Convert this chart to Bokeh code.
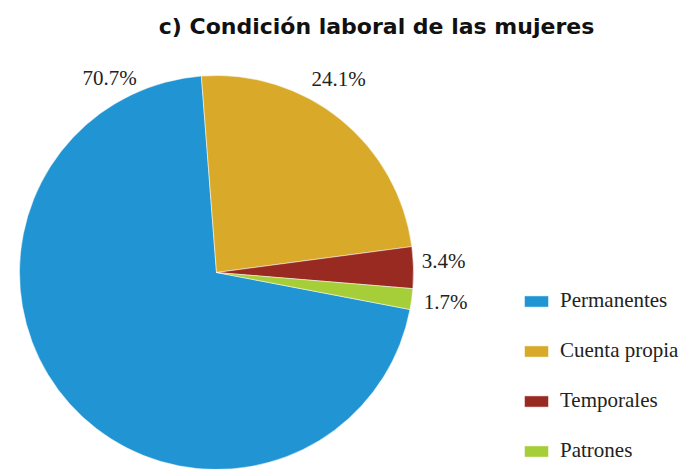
import numpy as np
from bokeh.plotting import figure
from bokeh.models import ColumnDataSource, Range1d, Legend, LegendItem, Label
from bokeh.embed import file_html
from bokeh.resources import INLINE

# ---- data ----
categories = ["Permanentes", "Cuenta propia", "Temporales", "Patrones"]
values = [70.7, 24.1, 3.4, 1.7]
colors = ["#2195D3", "#D9AA2A", "#992A22", "#A6CE39"]
title_text = "c) Condición laboral de las mujeres"

# ---- layout ----
W, H = 684, 469
CX, CY, R = 216, 197, 197          # pie centre / radius (plot px, y up)
SECOND_START_DEG = 94.4             # where the 2nd slice starts (deg, ccw from +x)
# label centre positions (plot px, y up), one per slice
label_pos = [(109, 392), (338, 391), (443, 209), (445, 168)]

vals = np.array(values, dtype=float)
frac = vals / vals.sum()
sweep = frac * 2 * np.pi
start0 = np.deg2rad(SECOND_START_DEG) + sweep[0]
starts = start0 - np.concatenate([[0], np.cumsum(sweep)[:-1]])
ends = starts - sweep

src = ColumnDataSource(dict(cat=categories, start=starts, end=ends, color=colors,
                            lab=[f"{v:.1f}%" for v in values]))

p = figure(width=W, height=H, output_backend="svg", toolbar_location=None,
           x_range=Range1d(0, W), y_range=Range1d(0, H), min_border=0)
p.axis.visible = False
p.grid.visible = False
p.outline_line_color = None

r = p.wedge(x=CX, y=CY, radius=R, start_angle="start", end_angle="end",
            direction="clock", fill_color="color", line_color="white",
            line_width=0.5, source=src)

for (lx, ly), txt in zip(label_pos, src.data["lab"]):
    p.add_layout(Label(x=lx, y=ly, text=txt, text_align="center",
                       text_baseline="middle", text_font="Liberation Serif",
                       text_font_size="21px", text_color="#222222"))

p.add_layout(Label(x=376, y=H - 26, text=title_text, text_align="center",
                   text_baseline="middle", text_font="DejaVu Sans",
                   text_font_style="bold", text_font_size="22px",
                   text_color="#111111"))

items = [LegendItem(label=c, renderers=[r], index=i) for i, c in enumerate(categories)]
legend = Legend(items=items, location=(521, 6), orientation="vertical",
                glyph_width=30, glyph_height=14, label_standoff=9, spacing=25,
                padding=0, margin=0, border_line_color=None,
                background_fill_alpha=0, label_text_font="Liberation Serif",
                label_text_font_size="21px", label_text_color="#222222")
p.add_layout(legend)

open("out.html", "w").write(file_html(p, INLINE))
